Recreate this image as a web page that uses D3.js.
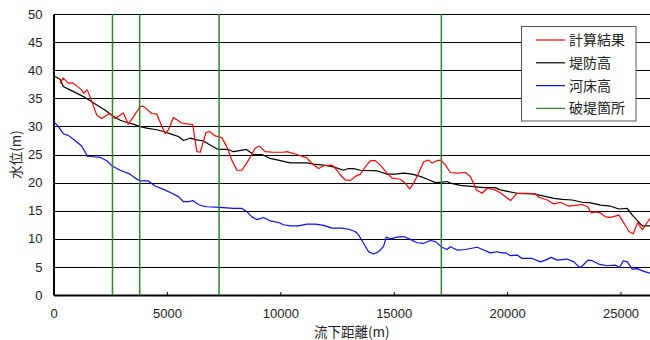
<!DOCTYPE html>
<html>
<head>
    <meta charset="utf-8">
    <title>水位縦断図</title>
</head>
<body style="margin:0">
<style>
body { background: #fff; }
text { font-family: "Liberation Sans", Arial, sans-serif; font-size: 13px; fill: #222; }
.jp { font-family: "Noto Sans CJK JP", "Liberation Sans", sans-serif; }
.grid line { stroke: #000; stroke-width: 1px; shape-rendering: crispEdges; }
.series { fill: none; stroke-width: 1.2px; stroke-linejoin: round; }
</style>
<svg width="650" height="340"></svg>
<script src="https://d3js.org/d3.v7.min.js"></script>
<script>
// distance (m), value (m) pairs
var calcLevel = [
  [290,37.7],[430,38.6],[650,37.7],[870,37.7],[1240,36.5],[1320,35.9],[1490,36.5],[1610,35.3],
  [1910,32.0],[2130,31.4],[2350,32.0],[2490,32.3],[2710,31.4],[3080,32.4],[3300,30.4],[3520,31.7],
  [3820,33.5],[3960,33.6],[4330,32.3],[4550,32.2],[4920,28.7],[5070,29.4],[5290,31.6],[5660,30.6],
  [5950,30.4],[6140,30.3],[6320,25.5],[6470,25.4],[6720,28.9],[6880,29.1],[7130,28.3],[7420,28.0],
  [7640,26.4],[7860,24.0],[8090,22.2],[8310,22.2],[8600,24.0],[8890,26.1],[9080,26.5],[9330,25.5],
  [9700,25.4],[10140,25.4],[10290,25.5],[10730,25.0],[11170,24.4],[11390,23.4],[11690,22.5],[11910,23.0],
  [12280,23.1],[12500,22.2],[12640,21.4],[12860,20.5],[13090,20.4],[13310,21.1],[13530,21.5],[13750,22.8],
  [13970,23.9],[14190,23.9],[14480,22.8],[14700,21.7],[14930,20.8],[15290,20.6],[15510,19.9],[15700,18.9],
  [15880,19.9],[16100,21.7],[16320,23.7],[16540,24.0],[16690,23.5],[16910,23.9],[17090,24.0],[17280,23.1],
  [17500,21.8],[17790,21.7],[18160,21.8],[18380,21.1],[18650,18.7],[18900,18.1],[19120,19.0],[19410,18.8],
  [19700,18.2],[19930,17.5],[20150,16.8],[20440,18.1],[20880,18.1],[21250,18.0],[21400,17.4],[21770,16.9],
  [22060,16.2],[22350,16.5],[22720,15.8],[23090,16.0],[23310,16.1],[23560,15.7],[23710,14.6],[23900,14.8],
  [24120,14.6],[24340,13.9],[24560,13.8],[24930,14.2],[25150,12.8],[25370,11.3],[25560,10.9],[25760,12.9],
  [25960,11.6],[26180,12.9],[26300,13.6]
];

var bankHeight = [
  [0,39.0],[290,38.4],[430,37.1],[730,36.5],[1320,35.3],[1910,33.8],[2270,32.9],[2570,32.0],
  [2940,31.1],[3300,30.6],[3520,30.4],[3790,30.0],[4110,29.7],[4550,29.4],[4850,29.1],[5290,28.5],
  [5510,28.2],[5730,27.5],[6020,27.9],[6320,27.6],[6610,27.4],[6980,26.5],[7270,25.9],[7710,25.9],
  [7930,25.5],[8200,25.7],[8500,25.9],[8820,25.0],[9190,25.0],[9550,24.3],[10000,23.9],[10440,23.5],
  [11170,23.5],[11470,23.3],[11910,23.1],[12350,22.8],[12790,22.2],[13010,22.5],[13230,22.5],[13530,22.2],
  [14260,22.1],[14700,21.5],[15070,21.5],[15440,21.7],[15810,21.5],[16170,21.1],[16540,20.5],[16840,20.0],
  [17130,20.1],[17350,20.2],[17500,19.9],[17940,19.5],[18530,19.3],[18970,19.1],[19480,19.1],[19700,18.7],
  [20070,18.4],[20440,18.1],[21170,18.0],[21620,17.6],[22060,17.2],[22430,17.0],[22870,16.9],[23310,16.5],
  [23680,16.4],[24120,16.0],[24560,15.8],[24930,15.3],[25300,15.4],[25520,14.2],[25960,12.3],[26300,12.3]
];

var bedHeight = [
  [0,30.9],[210,30.0],[430,28.7],[650,28.4],[950,27.5],[1240,26.5],[1390,25.5],[1490,24.7],
  [1760,24.6],[2050,24.5],[2350,23.9],[2570,23.0],[2940,22.2],[3380,21.5],[3600,20.8],[3820,20.3],
  [4180,20.3],[4480,19.4],[4850,18.8],[5220,18.1],[5510,17.5],[5730,16.6],[5950,16.6],[6140,16.8],
  [6390,16.1],[6610,15.8],[6760,15.7],[7350,15.6],[7940,15.4],[8310,15.4],[8530,14.8],[8750,13.9],
  [8970,13.4],[9260,13.8],[9550,13.2],[9920,12.9],[10140,12.5],[10440,12.3],[10800,12.3],[11170,12.6],
  [11540,12.6],[11910,12.4],[12280,11.9],[12720,11.9],[13010,11.7],[13300,11.3],[13450,10.7],[13670,9.2],
  [13890,7.7],[14110,7.3],[14330,7.7],[14550,8.6],[14670,10.3],[14850,10.0],[15150,10.3],[15440,10.4],
  [15730,9.9],[16030,9.3],[16320,9.2],[16620,9.7],[16840,9.5],[17130,8.5],[17350,8.1],[17500,8.6],
  [17790,8.0],[18160,8.1],[18680,8.5],[18970,8.0],[19260,7.5],[19560,7.7],[19780,7.5],[19930,7.5],
  [20150,7.0],[20440,7.1],[20660,6.5],[21100,6.5],[21470,5.9],[21690,6.2],[21940,6.7],[22210,6.2],
  [22650,6.4],[22940,5.9],[23200,4.9],[23350,5.3],[23560,6.2],[23750,6.1],[24040,5.5],[24410,5.2],
  [24780,5.3],[24960,4.9],[25120,6.1],[25300,5.9],[25520,4.6],[25740,4.7],[26030,4.2],[26300,3.9]
];

var breachPoints = [2600, 3800, 7300, 17100];

var xTicks = [0, 5000, 10000, 15000, 20000, 25000];
var yTicks = [0, 5, 10, 15, 20, 25, 30, 35, 40, 45, 50];

var legendItems = [
  {name: "計算結果", color: "#ff0000"},
  {name: "堤防高", color: "#000000"},
  {name: "河床高", color: "#0a0aff"},
  {name: "破堤箇所", color: "#2a8a2a"}
];

var svg = d3.select("svg");
var plotLeft = 53.5, plotRight = 650, plotTop = 14, plotBottom = 295;

var x = d3.scaleLinear().domain([0, 26300]).range([plotLeft, plotRight]);
var y = d3.scaleLinear().domain([0, 50]).range([plotBottom, plotTop]);

// horizontal grid
svg.append("g").attr("class", "grid")
  .selectAll("line").data(yTicks.slice(1))
  .enter().append("line")
    .attr("x1", plotLeft).attr("x2", plotRight + 2)
    .attr("y1", function(d) { return Math.round(y(d)) + 0.5; })
    .attr("y2", function(d) { return Math.round(y(d)) + 0.5; });

// axes
var xAxis = svg.append("g")
  .attr("transform", "translate(0," + plotBottom + ")")
  .call(d3.axisBottom(x).tickValues(xTicks).tickSizeInner(-3).tickSizeOuter(0).tickPadding(14).tickFormat(d3.format("d")));
xAxis.select(".domain").attr("stroke", "#000").attr("stroke-width", 2);

var yAxis = svg.append("g")
  .attr("transform", "translate(" + plotLeft + ",0)")
  .call(d3.axisLeft(y).tickValues(yTicks).tickSize(0).tickPadding(11).tickFormat(d3.format("d")));
yAxis.select(".domain").attr("stroke", "#000").attr("stroke-width", 2);

svg.selectAll(".tick text").style("font-size", "13px").attr("fill", "#222")
  .style("font-family", "'Liberation Sans', Arial, sans-serif");

var line = d3.line()
  .x(function(d) { return x(d[0]); })
  .y(function(d) { return y(d[1]); });

svg.append("path").datum(bedHeight).attr("class", "series")
  .attr("stroke", legendItems[2].color).attr("d", line);
svg.append("path").datum(bankHeight).attr("class", "series")
  .attr("stroke", legendItems[1].color).attr("d", line);
svg.append("path").datum(calcLevel).attr("class", "series")
  .attr("stroke", legendItems[0].color).attr("d", line);

// breach locations
svg.append("g").selectAll("line").data(breachPoints)
  .enter().append("line")
    .attr("x1", function(d) { return x(d); }).attr("x2", function(d) { return x(d); })
    .attr("y1", plotTop).attr("y2", plotBottom)
    .attr("stroke", legendItems[3].color).attr("stroke-width", 1.5);

// axis titles
svg.append("text").attr("class", "jp")
  .attr("text-anchor", "middle")
  .style("font-size", "13.5px")
  .attr("transform", "translate(21," + ((plotTop + plotBottom) / 2) + ") rotate(-90)")
  .text("水位(m)");

svg.append("text").attr("class", "jp")
  .attr("text-anchor", "middle")
  .style("font-size", "13.5px")
  .attr("x", (plotLeft + plotRight) / 2).attr("y", 337)
  .text("流下距離(m)");

// legend
var legend = svg.append("g").attr("transform", "translate(521.5,26.5)");
legend.append("rect")
  .attr("width", 114.5).attr("height", 94.5)
  .attr("fill", "#fff").attr("stroke", "#555").attr("stroke-width", 1);

var item = legend.selectAll(".item").data(legendItems)
  .enter().append("g")
    .attr("transform", function(d, i) { return "translate(0," + (13.5 + i * 22.8) + ")"; });
item.append("line")
  .attr("x1", 14.5).attr("x2", 43.5)
  .attr("stroke", function(d) { return d.color; }).attr("stroke-width", 1.2);
item.append("text").attr("class", "jp")
  .style("font-size", "14px")
  .attr("x", 47.5).attr("dy", "0.36em")
  .text(function(d) { return d.name; });
</script>
</body>
</html>
